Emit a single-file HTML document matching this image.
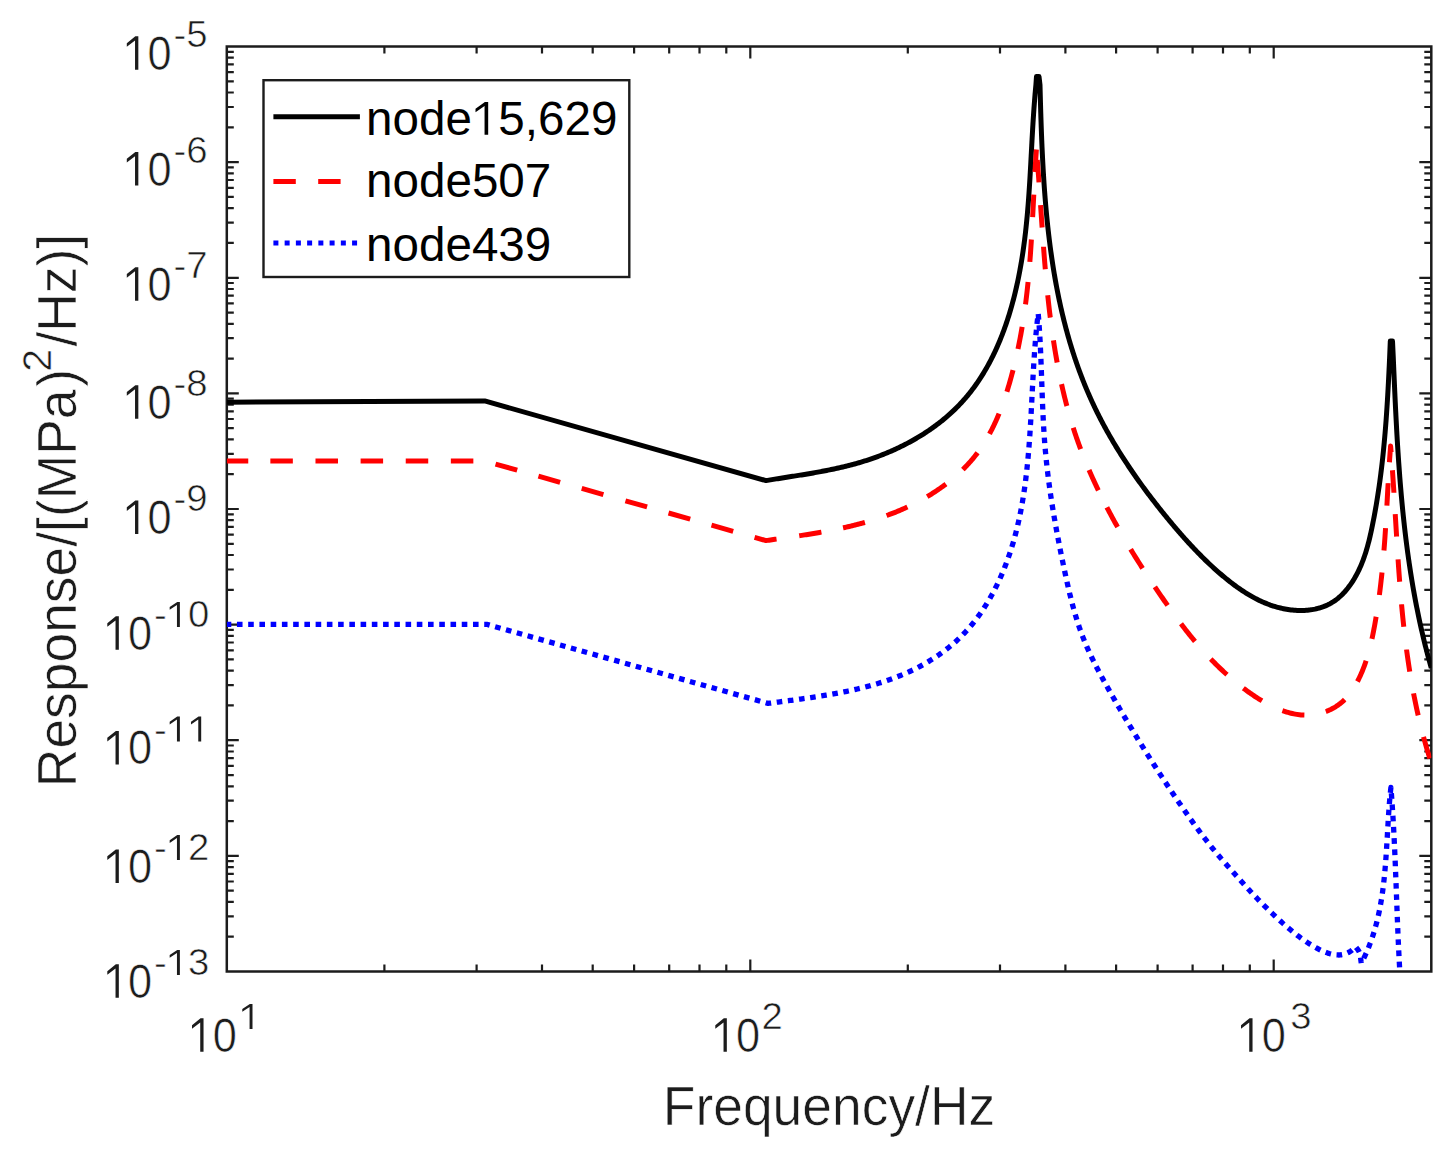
<!DOCTYPE html>
<html><head><meta charset="utf-8"><style>html,body{margin:0;padding:0;background:#fff;overflow:hidden;}svg{display:block;}.tx text{stroke:#fff;stroke-width:0.6;}</style></head>
<body><svg width="1455" height="1160" viewBox="0 0 1455 1160">
<rect width="1455" height="1160" fill="#fff"/>
<defs><clipPath id="c"><rect x="226.8" y="46.5" width="1204.5" height="925.0"/></clipPath></defs>
<rect x="226.8" y="46.5" width="1204.5" height="925.0" fill="none" stroke="#1c1c1c" stroke-width="2.5"/>
<path d="M384.4 971.5v-7.0M384.4 46.5v7.0M476.6 971.5v-7.0M476.6 46.5v7.0M542.0 971.5v-7.0M542.0 46.5v7.0M592.7 971.5v-7.0M592.7 46.5v7.0M634.1 971.5v-7.0M634.1 46.5v7.0M669.2 971.5v-7.0M669.2 46.5v7.0M699.5 971.5v-7.0M699.5 46.5v7.0M726.3 971.5v-7.0M726.3 46.5v7.0M750.3 971.5v-12.0M750.3 46.5v12.0M907.8 971.5v-7.0M907.8 46.5v7.0M1000.0 971.5v-7.0M1000.0 46.5v7.0M1065.4 971.5v-7.0M1065.4 46.5v7.0M1116.1 971.5v-7.0M1116.1 46.5v7.0M1157.6 971.5v-7.0M1157.6 46.5v7.0M1192.6 971.5v-7.0M1192.6 46.5v7.0M1223.0 971.5v-7.0M1223.0 46.5v7.0M1249.8 971.5v-7.0M1249.8 46.5v7.0M1273.7 971.5v-12.0M1273.7 46.5v12.0M226.8 936.7h7.0M1431.3 936.7h-7.0M226.8 916.3h7.0M1431.3 916.3h-7.0M226.8 901.9h7.0M1431.3 901.9h-7.0M226.8 890.7h7.0M1431.3 890.7h-7.0M226.8 881.5h7.0M1431.3 881.5h-7.0M226.8 873.8h7.0M1431.3 873.8h-7.0M226.8 867.1h7.0M1431.3 867.1h-7.0M226.8 861.2h7.0M1431.3 861.2h-7.0M226.8 855.9h12.0M1431.3 855.9h-12.0M226.8 821.1h7.0M1431.3 821.1h-7.0M226.8 800.7h7.0M1431.3 800.7h-7.0M226.8 786.3h7.0M1431.3 786.3h-7.0M226.8 775.1h7.0M1431.3 775.1h-7.0M226.8 765.9h7.0M1431.3 765.9h-7.0M226.8 758.2h7.0M1431.3 758.2h-7.0M226.8 751.5h7.0M1431.3 751.5h-7.0M226.8 745.5h7.0M1431.3 745.5h-7.0M226.8 740.2h12.0M1431.3 740.2h-12.0M226.8 705.4h7.0M1431.3 705.4h-7.0M226.8 685.1h7.0M1431.3 685.1h-7.0M226.8 670.6h7.0M1431.3 670.6h-7.0M226.8 659.4h7.0M1431.3 659.4h-7.0M226.8 650.3h7.0M1431.3 650.3h-7.0M226.8 642.5h7.0M1431.3 642.5h-7.0M226.8 635.8h7.0M1431.3 635.8h-7.0M226.8 629.9h7.0M1431.3 629.9h-7.0M226.8 624.6h12.0M1431.3 624.6h-12.0M226.8 589.8h7.0M1431.3 589.8h-7.0M226.8 569.5h7.0M1431.3 569.5h-7.0M226.8 555.0h7.0M1431.3 555.0h-7.0M226.8 543.8h7.0M1431.3 543.8h-7.0M226.8 534.7h7.0M1431.3 534.7h-7.0M226.8 526.9h7.0M1431.3 526.9h-7.0M226.8 520.2h7.0M1431.3 520.2h-7.0M226.8 514.3h7.0M1431.3 514.3h-7.0M226.8 509.0h12.0M1431.3 509.0h-12.0M226.8 474.2h7.0M1431.3 474.2h-7.0M226.8 453.8h7.0M1431.3 453.8h-7.0M226.8 439.4h7.0M1431.3 439.4h-7.0M226.8 428.2h7.0M1431.3 428.2h-7.0M226.8 419.0h7.0M1431.3 419.0h-7.0M226.8 411.3h7.0M1431.3 411.3h-7.0M226.8 404.6h7.0M1431.3 404.6h-7.0M226.8 398.7h7.0M1431.3 398.7h-7.0M226.8 393.4h12.0M1431.3 393.4h-12.0M226.8 358.6h7.0M1431.3 358.6h-7.0M226.8 338.2h7.0M1431.3 338.2h-7.0M226.8 323.8h7.0M1431.3 323.8h-7.0M226.8 312.6h7.0M1431.3 312.6h-7.0M226.8 303.4h7.0M1431.3 303.4h-7.0M226.8 295.7h7.0M1431.3 295.7h-7.0M226.8 289.0h7.0M1431.3 289.0h-7.0M226.8 283.0h7.0M1431.3 283.0h-7.0M226.8 277.8h12.0M1431.3 277.8h-12.0M226.8 242.9h7.0M1431.3 242.9h-7.0M226.8 222.6h7.0M1431.3 222.6h-7.0M226.8 208.1h7.0M1431.3 208.1h-7.0M226.8 196.9h7.0M1431.3 196.9h-7.0M226.8 187.8h7.0M1431.3 187.8h-7.0M226.8 180.0h7.0M1431.3 180.0h-7.0M226.8 173.3h7.0M1431.3 173.3h-7.0M226.8 167.4h7.0M1431.3 167.4h-7.0M226.8 162.1h12.0M1431.3 162.1h-12.0M226.8 127.3h7.0M1431.3 127.3h-7.0M226.8 107.0h7.0M1431.3 107.0h-7.0M226.8 92.5h7.0M1431.3 92.5h-7.0M226.8 81.3h7.0M1431.3 81.3h-7.0M226.8 72.2h7.0M1431.3 72.2h-7.0M226.8 64.4h7.0M1431.3 64.4h-7.0M226.8 57.7h7.0M1431.3 57.7h-7.0M226.8 51.8h7.0M1431.3 51.8h-7.0" stroke="#1c1c1c" stroke-width="2.2" fill="none"/>
<g clip-path="url(#c)" fill="none" stroke-linejoin="round">
<polyline points="226.80,402.20 484.70,400.90 766.00,480.60 767.47,480.35 768.94,480.11 770.41,479.86 771.88,479.62 773.36,479.38 774.83,479.14 776.31,478.90 777.78,478.67 779.26,478.43 780.74,478.20 782.22,477.96 783.70,477.73 785.17,477.50 786.66,477.26 788.14,477.03 789.62,476.80 791.10,476.57 792.58,476.33 794.06,476.10 795.55,475.86 797.03,475.63 798.51,475.39 800.00,475.15 801.48,474.91 802.96,474.67 804.45,474.43 805.93,474.18 807.41,473.93 808.90,473.68 810.38,473.43 811.86,473.18 813.35,472.92 814.83,472.66 816.31,472.40 817.79,472.13 819.27,471.86 820.76,471.59 822.24,471.31 823.72,471.03 825.20,470.75 826.67,470.46 828.15,470.17 829.63,469.87 831.11,469.57 832.58,469.26 834.06,468.95 835.53,468.63 837.00,468.31 838.48,467.98 839.95,467.65 841.42,467.31 842.89,466.97 844.35,466.62 845.82,466.26 847.29,465.90 848.75,465.53 850.21,465.15 851.67,464.77 853.13,464.38 854.59,463.98 856.05,463.57 857.50,463.16 858.96,462.74 860.41,462.31 861.86,461.88 863.31,461.43 864.75,460.98 866.20,460.52 867.64,460.05 869.08,459.58 870.52,459.09 871.96,458.60 873.39,458.10 874.82,457.59 876.25,457.07 877.67,456.55 879.10,456.01 880.52,455.47 881.93,454.92 883.35,454.36 884.76,453.80 886.16,453.22 887.57,452.64 888.97,452.05 890.36,451.45 891.75,450.84 893.14,450.22 894.53,449.60 895.91,448.97 897.28,448.33 898.66,447.68 900.02,447.02 901.39,446.35 902.74,445.68 904.10,445.00 905.45,444.31 906.79,443.61 908.13,442.90 909.46,442.19 910.79,441.46 912.12,440.73 913.43,439.99 914.75,439.24 916.05,438.49 917.35,437.72 918.65,436.95 919.94,436.17 921.22,435.38 922.50,434.58 923.77,433.77 925.03,432.96 926.29,432.14 927.54,431.30 928.79,430.46 930.03,429.62 931.26,428.76 932.48,427.90 933.70,427.02 934.91,426.14 936.11,425.25 937.31,424.35 938.50,423.45 939.68,422.53 940.85,421.61 942.02,420.68 943.17,419.73 944.32,418.79 945.46,417.83 946.60,416.86 947.72,415.89 948.84,414.91 949.95,413.92 951.05,412.92 952.14,411.91 953.22,410.90 954.29,409.87 955.35,408.84 956.41,407.80 957.46,406.75 958.49,405.69 959.52,404.62 960.54,403.55 961.54,402.46 962.54,401.37 963.53,400.27 964.51,399.16 965.48,398.05 966.44,396.92 967.39,395.79 968.33,394.65 969.26,393.50 970.18,392.34 971.09,391.18 971.99,390.00 972.88,388.82 973.77,387.64 974.64,386.44 975.51,385.24 976.36,384.03 977.21,382.81 978.05,381.59 978.87,380.36 979.69,379.12 980.50,377.88 981.31,376.63 982.10,375.37 982.88,374.10 983.66,372.83 984.43,371.56 985.18,370.27 985.93,368.99 986.68,367.69 987.41,366.39 988.13,365.08 988.85,363.77 989.56,362.45 990.26,361.13 990.95,359.80 991.63,358.46 992.30,357.12 992.97,355.78 993.63,354.43 994.28,353.07 994.92,351.71 995.56,350.35 996.19,348.98 996.81,347.61 997.42,346.23 998.02,344.84 998.62,343.46 999.21,342.06 999.79,340.67 1000.36,339.27 1000.93,337.86 1001.49,336.45 1002.04,335.04 1002.59,333.63 1003.12,332.21 1003.65,330.78 1004.18,329.36 1004.69,327.93 1005.20,326.49 1005.71,325.06 1006.20,323.62 1006.69,322.17 1007.17,320.73 1007.65,319.28 1008.11,317.83 1008.58,316.38 1009.03,314.92 1009.48,313.46 1009.92,312.00 1010.36,310.54 1010.79,309.07 1011.21,307.60 1011.63,306.13 1012.04,304.66 1012.44,303.19 1012.84,301.71 1013.23,300.24 1013.61,298.76 1013.99,297.28 1014.37,295.80 1014.74,294.32 1015.10,292.83 1015.45,291.35 1015.80,289.86 1016.15,288.38 1016.49,286.89 1016.82,285.40 1017.15,283.91 1017.47,282.42 1017.79,280.93 1018.10,279.44 1018.41,277.95 1018.71,276.46 1019.00,274.97 1019.29,273.48 1019.58,271.99 1019.86,270.50 1020.13,269.01 1020.40,267.52 1020.67,266.03 1020.93,264.54 1021.19,263.05 1021.44,261.56 1021.68,260.07 1021.92,258.58 1022.16,257.09 1022.39,255.60 1022.62,254.11 1022.85,252.62 1023.07,251.13 1023.28,249.64 1023.49,248.15 1023.70,246.66 1023.90,245.17 1024.10,243.68 1024.30,242.19 1024.49,240.70 1024.68,239.21 1024.86,237.72 1025.04,236.23 1025.22,234.74 1025.40,233.25 1025.57,231.76 1025.73,230.27 1025.90,228.78 1026.06,227.29 1026.21,225.80 1026.37,224.31 1026.52,222.82 1026.67,221.33 1026.81,219.84 1026.95,218.35 1027.09,216.86 1027.23,215.37 1027.36,213.87 1027.50,212.38 1027.62,210.89 1027.75,209.40 1027.87,207.91 1028.00,206.42 1028.12,204.93 1028.23,203.44 1028.35,201.95 1028.46,200.46 1028.57,198.96 1028.68,197.47 1028.79,195.98 1028.89,194.49 1029.00,193.00 1029.10,191.50 1029.20,190.01 1029.30,188.52 1029.39,187.03 1029.49,185.53 1029.58,184.04 1029.68,182.55 1029.77,181.06 1029.86,179.56 1029.95,178.07 1030.03,176.58 1030.12,175.08 1030.21,173.59 1030.29,172.09 1030.38,170.60 1030.46,169.10 1030.54,167.61 1030.63,166.12 1030.71,164.62 1030.79,163.12 1030.87,161.63 1030.95,160.13 1031.03,158.64 1031.11,157.14 1031.19,155.65 1031.27,154.15 1031.35,152.65 1031.43,151.15 1031.51,149.66 1031.59,148.16 1031.67,146.66 1031.75,145.16 1031.83,143.67 1031.91,142.17 1031.99,140.67 1032.07,139.17 1032.15,137.67 1032.24,136.17 1032.32,134.67 1032.41,133.17 1032.49,131.67 1032.58,130.17 1032.66,128.67 1032.75,127.17 1032.84,125.67 1032.93,124.16 1033.02,122.66 1033.12,121.16 1033.21,119.66 1033.31,118.15 1033.41,116.65 1033.50,115.15 1033.60,113.64 1033.71,112.14 1033.81,110.63 1033.92,109.13 1034.02,107.62 1034.13,106.12 1034.24,104.61 1034.36,103.11 1034.47,101.60 1034.59,100.09 1034.71,98.58 1034.83,97.08 1034.96,95.57 1035.08,94.06 1035.21,92.55 1035.35,91.04 1035.48,89.53 1035.62,88.02 1035.76,86.51 1035.90,85.00 1036.50,76.50 1039.00,76.50 1040.00,85.00 1040.04,86.48 1040.08,87.97 1040.11,89.45 1040.15,90.94 1040.19,92.43 1040.23,93.92 1040.27,95.41 1040.31,96.89 1040.35,98.38 1040.39,99.88 1040.43,101.37 1040.47,102.86 1040.51,104.35 1040.56,105.84 1040.60,107.34 1040.64,108.83 1040.69,110.33 1040.73,111.82 1040.78,113.32 1040.83,114.82 1040.87,116.31 1040.92,117.81 1040.97,119.31 1041.02,120.81 1041.07,122.31 1041.12,123.81 1041.17,125.31 1041.22,126.81 1041.28,128.31 1041.33,129.81 1041.39,131.32 1041.44,132.82 1041.50,134.32 1041.56,135.82 1041.62,137.33 1041.68,138.83 1041.74,140.34 1041.80,141.84 1041.86,143.35 1041.93,144.85 1041.99,146.36 1042.06,147.86 1042.13,149.37 1042.20,150.88 1042.27,152.38 1042.34,153.89 1042.42,155.40 1042.49,156.90 1042.57,158.41 1042.64,159.92 1042.72,161.43 1042.80,162.94 1042.88,164.44 1042.97,165.95 1043.05,167.46 1043.14,168.97 1043.22,170.48 1043.31,171.99 1043.40,173.50 1043.50,175.00 1043.59,176.51 1043.69,178.02 1043.78,179.53 1043.88,181.04 1043.98,182.55 1044.08,184.06 1044.19,185.57 1044.29,187.08 1044.40,188.58 1044.51,190.09 1044.62,191.60 1044.74,193.11 1044.85,194.62 1044.97,196.13 1045.09,197.63 1045.21,199.14 1045.33,200.65 1045.46,202.16 1045.59,203.66 1045.71,205.17 1045.85,206.68 1045.98,208.19 1046.11,209.69 1046.25,211.20 1046.39,212.70 1046.53,214.21 1046.68,215.72 1046.83,217.22 1046.97,218.72 1047.13,220.23 1047.28,221.73 1047.44,223.24 1047.59,224.74 1047.75,226.24 1047.92,227.75 1048.08,229.25 1048.25,230.75 1048.42,232.25 1048.59,233.75 1048.77,235.25 1048.95,236.75 1049.13,238.25 1049.31,239.75 1049.50,241.25 1049.69,242.75 1049.88,244.24 1050.07,245.74 1050.27,247.24 1050.47,248.73 1050.67,250.23 1050.87,251.72 1051.08,253.22 1051.29,254.71 1051.51,256.20 1051.72,257.70 1051.94,259.19 1052.16,260.68 1052.39,262.17 1052.62,263.66 1052.85,265.15 1053.08,266.63 1053.32,268.12 1053.56,269.61 1053.80,271.09 1054.05,272.58 1054.30,274.06 1054.55,275.54 1054.81,277.03 1055.07,278.51 1055.33,279.99 1055.60,281.47 1055.87,282.95 1056.14,284.43 1056.41,285.90 1056.69,287.38 1056.97,288.86 1057.26,290.33 1057.55,291.80 1057.84,293.28 1058.14,294.75 1058.44,296.22 1058.74,297.69 1059.05,299.16 1059.36,300.63 1059.67,302.09 1059.99,303.56 1060.31,305.02 1060.63,306.49 1060.96,307.95 1061.29,309.41 1061.63,310.87 1061.97,312.33 1062.31,313.79 1062.66,315.24 1063.01,316.70 1063.37,318.15 1063.72,319.61 1064.09,321.06 1064.45,322.51 1064.82,323.96 1065.20,325.41 1065.58,326.86 1065.96,328.30 1066.34,329.75 1066.74,331.19 1067.13,332.63 1067.53,334.07 1067.93,335.51 1068.34,336.95 1068.75,338.39 1069.16,339.82 1069.58,341.26 1070.01,342.69 1070.43,344.12 1070.87,345.55 1071.30,346.98 1071.74,348.41 1072.19,349.83 1072.64,351.26 1073.09,352.68 1073.55,354.10 1074.01,355.52 1074.48,356.94 1074.95,358.36 1075.43,359.77 1075.91,361.18 1076.40,362.60 1076.88,364.01 1077.38,365.42 1077.88,366.82 1078.38,368.23 1078.89,369.63 1079.40,371.03 1079.92,372.44 1080.45,373.83 1080.97,375.23 1081.50,376.63 1082.04,378.02 1082.58,379.41 1083.13,380.80 1083.68,382.19 1084.24,383.58 1084.80,384.97 1085.37,386.35 1085.94,387.73 1086.52,389.11 1087.10,390.49 1087.68,391.86 1088.28,393.24 1088.87,394.61 1089.47,395.98 1090.08,397.35 1090.69,398.72 1091.31,400.08 1091.93,401.45 1092.56,402.81 1093.19,404.17 1093.83,405.52 1094.48,406.88 1095.12,408.23 1095.78,409.58 1096.44,410.93 1097.10,412.28 1097.77,413.63 1098.45,414.97 1099.13,416.31 1099.81,417.65 1100.50,418.99 1101.19,420.32 1101.89,421.66 1102.59,422.99 1103.30,424.32 1104.02,425.64 1104.73,426.97 1105.46,428.29 1106.18,429.61 1106.91,430.93 1107.65,432.25 1108.39,433.56 1109.14,434.88 1109.88,436.19 1110.64,437.50 1111.40,438.80 1112.16,440.11 1112.92,441.41 1113.70,442.71 1114.47,444.01 1115.25,445.30 1116.03,446.60 1116.82,447.89 1117.61,449.18 1118.40,450.47 1119.20,451.75 1120.01,453.04 1120.81,454.32 1121.62,455.60 1122.44,456.87 1123.25,458.15 1124.08,459.42 1124.90,460.69 1125.73,461.96 1126.56,463.22 1127.40,464.49 1128.24,465.75 1129.08,467.01 1129.93,468.26 1130.78,469.52 1131.63,470.77 1132.48,472.02 1133.34,473.27 1134.21,474.52 1135.07,475.76 1135.94,477.00 1136.81,478.24 1137.69,479.48 1138.57,480.71 1139.45,481.94 1140.33,483.17 1141.22,484.40 1142.11,485.63 1143.00,486.85 1143.90,488.07 1144.79,489.29 1145.70,490.50 1146.60,491.72 1147.51,492.93 1148.41,494.14 1149.33,495.35 1150.24,496.55 1151.16,497.75 1152.07,498.95 1153.00,500.15 1153.92,501.34 1154.84,502.54 1155.77,503.73 1156.70,504.91 1157.64,506.10 1158.57,507.28 1159.51,508.46 1160.45,509.64 1161.39,510.82 1162.33,511.99 1163.27,513.16 1164.22,514.33 1165.17,515.50 1166.12,516.66 1167.07,517.82 1168.03,518.98 1168.98,520.14 1169.94,521.29 1170.90,522.44 1171.86,523.59 1172.82,524.74 1173.79,525.88 1174.75,527.02 1175.72,528.16 1176.69,529.30 1177.66,530.43 1178.64,531.56 1179.61,532.69 1180.59,533.82 1181.58,534.94 1182.56,536.06 1183.55,537.17 1184.54,538.29 1185.53,539.40 1186.53,540.50 1187.53,541.61 1188.53,542.71 1189.54,543.80 1190.55,544.90 1191.56,545.99 1192.58,547.07 1193.60,548.16 1194.62,549.24 1195.65,550.32 1196.68,551.39 1197.72,552.46 1198.76,553.52 1199.80,554.59 1200.85,555.64 1201.90,556.70 1202.96,557.75 1204.02,558.80 1205.09,559.84 1206.16,560.88 1207.24,561.91 1208.32,562.95 1209.41,563.97 1210.50,565.00 1211.60,566.01 1212.70,567.03 1213.81,568.04 1214.92,569.05 1216.04,570.05 1217.17,571.04 1218.30,572.04 1219.43,573.03 1220.58,574.01 1221.72,574.99 1222.88,575.96 1224.04,576.93 1225.21,577.90 1226.38,578.86 1227.56,579.81 1228.75,580.76 1229.94,581.69 1231.14,582.63 1232.35,583.55 1233.56,584.47 1234.78,585.37 1236.01,586.27 1237.24,587.16 1238.48,588.04 1239.73,588.90 1240.98,589.76 1242.24,590.61 1243.51,591.44 1244.78,592.26 1246.06,593.07 1247.35,593.87 1248.65,594.65 1249.95,595.42 1251.26,596.18 1252.58,596.92 1253.90,597.65 1255.24,598.36 1256.58,599.05 1257.92,599.73 1259.28,600.40 1260.64,601.04 1262.01,601.67 1263.39,602.28 1264.77,602.87 1266.17,603.44 1267.57,604.00 1268.98,604.53 1270.39,605.05 1271.82,605.54 1273.25,606.01 1274.69,606.46 1276.14,606.90 1277.60,607.30 1279.06,607.69 1280.53,608.05 1282.02,608.39 1283.50,608.71 1285.00,609.00 1286.50,609.27 1288.01,609.51 1289.51,609.72 1291.03,609.91 1292.54,610.08 1294.06,610.22 1295.58,610.33 1297.09,610.41 1298.61,610.46 1300.12,610.49 1301.64,610.49 1303.14,610.45 1304.65,610.39 1306.15,610.30 1307.64,610.18 1309.13,610.02 1310.60,609.84 1312.07,609.62 1313.53,609.37 1314.98,609.09 1316.42,608.77 1317.85,608.42 1319.27,608.04 1320.67,607.62 1322.06,607.17 1323.43,606.68 1324.78,606.15 1326.12,605.59 1327.45,605.00 1328.75,604.36 1330.03,603.69 1331.30,602.98 1332.54,602.23 1333.76,601.44 1334.96,600.62 1336.14,599.76 1337.30,598.87 1338.44,597.94 1339.55,596.98 1340.65,595.99 1341.72,594.97 1342.77,593.92 1343.81,592.84 1344.82,591.74 1345.81,590.61 1346.78,589.46 1347.73,588.28 1348.65,587.08 1349.56,585.87 1350.45,584.63 1351.32,583.37 1352.16,582.10 1352.99,580.81 1353.79,579.51 1354.58,578.19 1355.35,576.86 1356.09,575.52 1356.82,574.17 1357.52,572.81 1358.21,571.45 1358.87,570.07 1359.52,568.69 1360.15,567.31 1360.75,565.92 1361.35,564.52 1361.92,563.11 1362.48,561.70 1363.02,560.29 1363.54,558.87 1364.05,557.45 1364.55,556.02 1365.03,554.58 1365.49,553.15 1365.95,551.71 1366.39,550.26 1366.82,548.81 1367.23,547.36 1367.64,545.90 1368.03,544.45 1368.42,542.98 1368.80,541.52 1369.16,540.05 1369.52,538.59 1369.87,537.12 1370.21,535.64 1370.54,534.17 1370.87,532.69 1371.19,531.22 1371.51,529.74 1371.82,528.26 1372.13,526.78 1372.43,525.31 1372.73,523.83 1373.02,522.35 1373.31,520.87 1373.60,519.39 1373.89,517.91 1374.17,516.43 1374.44,514.94 1374.72,513.46 1374.99,511.98 1375.25,510.50 1375.52,509.02 1375.78,507.54 1376.03,506.06 1376.29,504.57 1376.53,503.09 1376.78,501.61 1377.02,500.12 1377.26,498.64 1377.50,497.16 1377.73,495.67 1377.96,494.19 1378.19,492.70 1378.42,491.22 1378.64,489.73 1378.85,488.25 1379.07,486.76 1379.28,485.28 1379.49,483.79 1379.70,482.31 1379.90,480.82 1380.10,479.33 1380.30,477.84 1380.49,476.36 1380.69,474.87 1380.88,473.38 1381.06,471.89 1381.25,470.41 1381.43,468.92 1381.61,467.43 1381.78,465.94 1381.96,464.45 1382.13,462.96 1382.30,461.47 1382.46,459.98 1382.63,458.49 1382.79,457.00 1382.95,455.51 1383.10,454.02 1383.26,452.53 1383.41,451.03 1383.56,449.54 1383.71,448.05 1383.85,446.56 1384.00,445.06 1384.14,443.57 1384.28,442.08 1384.41,440.58 1384.55,439.09 1384.68,437.60 1384.81,436.10 1384.94,434.61 1385.07,433.11 1385.19,431.62 1385.31,430.12 1385.44,428.62 1385.56,427.13 1385.67,425.63 1385.79,424.14 1385.90,422.64 1386.02,421.14 1386.13,419.64 1386.24,418.15 1386.34,416.65 1386.45,415.15 1386.55,413.65 1386.66,412.15 1386.76,410.65 1386.86,409.15 1386.96,407.65 1387.05,406.15 1387.15,404.65 1387.24,403.15 1387.34,401.65 1387.43,400.15 1387.52,398.65 1387.61,397.15 1387.70,395.65 1387.78,394.14 1387.87,392.64 1387.96,391.14 1388.04,389.63 1388.12,388.13 1388.20,386.63 1388.28,385.12 1388.36,383.62 1388.44,382.11 1388.52,380.61 1388.60,379.10 1388.67,377.60 1388.75,376.09 1388.82,374.59 1388.90,373.08 1388.97,371.57 1389.04,370.07 1389.11,368.56 1389.19,367.05 1389.26,365.54 1389.33,364.04 1389.40,362.53 1389.46,361.02 1389.53,359.51 1389.60,358.00 1390.30,341.00 1392.50,341.00 1393.30,358.00 1393.36,359.51 1393.43,361.02 1393.49,362.53 1393.56,364.04 1393.62,365.54 1393.68,367.05 1393.75,368.56 1393.81,370.07 1393.88,371.58 1393.94,373.09 1394.01,374.60 1394.07,376.11 1394.14,377.62 1394.20,379.13 1394.27,380.64 1394.34,382.15 1394.40,383.66 1394.47,385.17 1394.54,386.68 1394.60,388.19 1394.67,389.71 1394.74,391.22 1394.81,392.73 1394.88,394.24 1394.95,395.75 1395.02,397.26 1395.09,398.77 1395.16,400.28 1395.23,401.79 1395.31,403.30 1395.38,404.82 1395.45,406.33 1395.52,407.84 1395.60,409.35 1395.67,410.86 1395.75,412.37 1395.83,413.88 1395.90,415.40 1395.98,416.91 1396.06,418.42 1396.14,419.93 1396.22,421.44 1396.30,422.95 1396.38,424.46 1396.46,425.98 1396.54,427.49 1396.63,429.00 1396.71,430.51 1396.80,432.02 1396.88,433.53 1396.97,435.04 1397.06,436.55 1397.14,438.07 1397.23,439.58 1397.32,441.09 1397.42,442.60 1397.51,444.11 1397.60,445.62 1397.70,447.13 1397.79,448.64 1397.89,450.15 1397.98,451.66 1398.08,453.17 1398.18,454.68 1398.28,456.19 1398.38,457.70 1398.49,459.21 1398.59,460.72 1398.69,462.23 1398.80,463.74 1398.91,465.25 1399.02,466.76 1399.13,468.27 1399.24,469.78 1399.35,471.29 1399.46,472.80 1399.58,474.31 1399.69,475.82 1399.81,477.33 1399.93,478.84 1400.05,480.34 1400.17,481.85 1400.29,483.36 1400.42,484.87 1400.54,486.38 1400.67,487.88 1400.80,489.39 1400.93,490.90 1401.06,492.41 1401.19,493.91 1401.32,495.42 1401.46,496.93 1401.60,498.43 1401.74,499.94 1401.88,501.44 1402.02,502.95 1402.16,504.46 1402.31,505.96 1402.45,507.47 1402.60,508.97 1402.75,510.48 1402.90,511.98 1403.06,513.48 1403.21,514.99 1403.37,516.49 1403.53,518.00 1403.69,519.50 1403.85,521.00 1404.01,522.50 1404.18,524.01 1404.34,525.51 1404.51,527.01 1404.68,528.51 1404.86,530.02 1405.03,531.52 1405.21,533.02 1405.39,534.52 1405.57,536.02 1405.75,537.52 1405.93,539.02 1406.12,540.52 1406.31,542.02 1406.50,543.52 1406.69,545.02 1406.89,546.51 1407.08,548.01 1407.28,549.51 1407.48,551.01 1407.68,552.50 1407.89,554.00 1408.10,555.50 1408.31,556.99 1408.52,558.49 1408.73,559.99 1408.95,561.48 1409.16,562.98 1409.38,564.47 1409.61,565.96 1409.83,567.46 1410.06,568.95 1410.29,570.44 1410.52,571.94 1410.75,573.43 1410.99,574.92 1411.23,576.41 1411.47,577.90 1411.71,579.39 1411.96,580.88 1412.21,582.37 1412.46,583.86 1412.71,585.35 1412.97,586.84 1413.22,588.33 1413.48,589.82 1413.75,591.31 1414.01,592.79 1414.28,594.28 1414.55,595.77 1414.83,597.25 1415.10,598.74 1415.38,600.22 1415.66,601.71 1415.95,603.19 1416.23,604.68 1416.52,606.16 1416.81,607.64 1417.11,609.12 1417.41,610.61 1417.71,612.09 1418.01,613.57 1418.31,615.05 1418.62,616.53 1418.93,618.01 1419.25,619.49 1419.56,620.97 1419.88,622.44 1420.21,623.92 1420.53,625.40 1420.86,626.87 1421.19,628.35 1421.53,629.83 1421.86,631.30 1422.20,632.78 1422.55,634.25 1422.89,635.72 1423.24,637.20 1423.59,638.67 1423.95,640.14 1424.31,641.61 1424.67,643.08 1425.03,644.55 1425.40,646.02 1425.77,647.49 1426.15,648.96 1426.52,650.43 1426.90,651.90 1427.29,653.36 1427.67,654.83 1428.06,656.29 1428.46,657.76 1428.85,659.22 1429.25,660.69 1429.66,662.15 1430.06,663.62 1430.47,665.08 1430.88,666.54 1431.30,668.00" stroke="#000" stroke-width="5.0"/>
<polyline points="226.80,461.00 248.25,461.00" stroke="#ff0000" stroke-width="5"/>
<polyline points="270.35,461.00 292.85,461.00" stroke="#ff0000" stroke-width="5"/>
<polyline points="315.48,461.00 337.98,461.00" stroke="#ff0000" stroke-width="5"/>
<polyline points="360.60,461.00 383.10,461.00" stroke="#ff0000" stroke-width="5"/>
<polyline points="405.73,461.00 428.23,461.00" stroke="#ff0000" stroke-width="5"/>
<polyline points="450.85,461.00 473.35,461.00" stroke="#ff0000" stroke-width="5"/>
<polyline points="495.55,464.07 517.20,470.20" stroke="#ff0000" stroke-width="5"/>
<polyline points="538.44,476.21 560.09,482.33" stroke="#ff0000" stroke-width="5"/>
<polyline points="581.73,488.46 603.38,494.58" stroke="#ff0000" stroke-width="5"/>
<polyline points="625.44,500.82 647.09,506.95" stroke="#ff0000" stroke-width="5"/>
<polyline points="668.54,513.02 690.19,519.15" stroke="#ff0000" stroke-width="5"/>
<polyline points="711.52,525.18 733.17,531.31" stroke="#ff0000" stroke-width="5"/>
<polyline points="754.59,537.37 766.00,540.60 767.48,540.39 768.96,540.17 770.45,539.96 771.93,539.75 773.41,539.53 774.90,539.32 776.39,539.11 776.54,539.09" stroke="#ff0000" stroke-width="5"/>
<polyline points="799.21,535.76 800.24,535.60 801.73,535.37 803.23,535.14 804.72,534.90 806.21,534.67 807.71,534.43 809.20,534.19 810.69,533.94 812.18,533.70 813.67,533.45 815.17,533.20 816.66,532.94 818.15,532.69 819.64,532.43 821.13,532.16 821.41,532.11" stroke="#ff0000" stroke-width="5"/>
<polyline points="843.07,527.84 843.36,527.78 844.83,527.45 846.30,527.12 847.77,526.78 849.24,526.44 850.71,526.10 852.17,525.75 853.64,525.39 855.10,525.03 856.56,524.66 858.02,524.29 859.47,523.91 860.93,523.53 862.38,523.14 863.83,522.74 864.91,522.44" stroke="#ff0000" stroke-width="5"/>
<polyline points="886.61,515.56 886.74,515.51 888.15,514.99 889.56,514.47 890.97,513.94 892.37,513.41 893.77,512.86 895.16,512.31 896.56,511.75 897.94,511.18 899.33,510.60 900.71,510.01 902.09,509.42 903.47,508.81 904.84,508.20 906.21,507.58 907.42,507.02" stroke="#ff0000" stroke-width="5"/>
<polyline points="927.20,496.61 927.58,496.39 928.88,495.61 930.17,494.82 931.45,494.02 932.73,493.22 934.00,492.40 935.27,491.58 936.53,490.74 937.78,489.90 939.03,489.05 940.27,488.19 941.51,487.32 942.73,486.44 943.95,485.55 945.17,484.65 945.89,484.11" stroke="#ff0000" stroke-width="5"/>
<polyline points="962.80,469.60 963.45,468.95 964.51,467.89 965.56,466.81 966.60,465.73 967.62,464.64 968.64,463.53 969.64,462.42 970.63,461.30 971.60,460.16 972.57,459.02 973.52,457.87 974.46,456.71 975.39,455.54 976.31,454.36 977.21,453.17 977.59,452.67" stroke="#ff0000" stroke-width="5"/>
<polyline points="989.49,433.92 989.97,433.04 990.67,431.71 991.37,430.39 992.05,429.05 992.72,427.71 993.38,426.37 994.03,425.01 994.67,423.66 995.30,422.29 995.92,420.92 996.53,419.55 997.13,418.17 997.73,416.78 998.31,415.40 998.89,414.00 999.06,413.57" stroke="#ff0000" stroke-width="5"/>
<polyline points="1006.88,391.72 1007.05,391.19 1007.50,389.75 1007.94,388.29 1008.38,386.84 1008.81,385.39 1009.24,383.93 1009.66,382.47 1010.08,381.01 1010.49,379.55 1010.89,378.09 1011.30,376.63 1011.69,375.17 1012.08,373.71 1012.47,372.24 1012.85,370.78 1013.03,370.08" stroke="#ff0000" stroke-width="5"/>
<polyline points="1017.95,349.02 1018.01,348.73 1018.32,347.25 1018.63,345.78 1018.93,344.30 1019.22,342.82 1019.51,341.34 1019.80,339.86 1020.08,338.39 1020.36,336.91 1020.64,335.42 1020.91,333.94 1021.17,332.46 1021.44,330.98 1021.70,329.50 1021.95,328.01 1022.13,326.92" stroke="#ff0000" stroke-width="5"/>
<polyline points="1025.50,304.36 1025.52,304.21 1025.72,302.72 1025.91,301.22 1026.09,299.73 1026.28,298.24 1026.46,296.75 1026.63,295.25 1026.81,293.76 1026.98,292.26 1027.15,290.77 1027.31,289.27 1027.47,287.78 1027.63,286.28 1027.79,284.79 1027.94,283.29 1028.07,282.01" stroke="#ff0000" stroke-width="5"/>
<polyline points="1029.84,261.90 1029.93,260.80 1030.04,259.30 1030.16,257.80 1030.27,256.30 1030.38,254.79 1030.48,253.29 1030.59,251.79 1030.69,250.29 1030.79,248.78 1030.89,247.28 1030.99,245.78 1031.09,244.28 1031.19,242.77 1031.28,241.27 1031.37,239.76 1031.39,239.46" stroke="#ff0000" stroke-width="5"/>
<polyline points="1032.64,217.14 1032.72,215.69 1032.80,214.18 1032.87,212.68 1032.95,211.17 1033.03,209.67 1033.10,208.16 1033.18,206.66 1033.26,205.15 1033.33,203.64 1033.41,202.14 1033.48,200.63 1033.56,199.13 1033.63,197.62 1033.71,196.12 1033.79,194.67" stroke="#ff0000" stroke-width="5"/>
<polyline points="1034.98,171.99 1035.07,170.54 1035.15,169.03 1035.24,167.53 1035.33,166.02 1035.42,164.52 1035.51,163.02 1035.61,161.52 1035.70,160.01 1035.79,158.51 1035.89,157.01 1035.99,155.51 1036.09,154.00 1036.19,152.50 1036.29,151.00 1036.40,149.53" stroke="#ff0000" stroke-width="5"/>
<polyline points="1037.28,159.99 1037.39,161.38 1037.51,162.87 1037.63,164.36 1037.75,165.85 1037.87,167.34 1037.98,168.83 1038.10,170.32 1038.21,171.81 1038.32,173.30 1038.43,174.79 1038.54,176.29 1038.66,177.78 1038.77,179.27 1038.87,180.77 1038.98,182.26 1038.99,182.42" stroke="#ff0000" stroke-width="5"/>
<polyline points="1040.58,205.09 1040.66,206.24 1040.76,207.74 1040.87,209.24 1040.97,210.75 1041.07,212.25 1041.18,213.75 1041.28,215.25 1041.38,216.76 1041.48,218.26 1041.59,219.76 1041.69,221.27 1041.80,222.77 1041.90,224.27 1042.00,225.78 1042.11,227.28 1042.13,227.53" stroke="#ff0000" stroke-width="5"/>
<polyline points="1043.52,246.78 1043.52,246.85 1043.63,248.35 1043.75,249.86 1043.86,251.36 1043.98,252.87 1044.09,254.37 1044.21,255.88 1044.33,257.38 1044.45,258.89 1044.57,260.39 1044.69,261.90 1044.81,263.40 1044.94,264.91 1045.06,266.41 1045.19,267.92 1045.30,269.21" stroke="#ff0000" stroke-width="5"/>
<polyline points="1047.75,295.33 1047.87,296.46 1048.03,297.96 1048.19,299.45 1048.35,300.95 1048.51,302.45 1048.68,303.95 1048.85,305.45 1049.02,306.94 1049.19,308.44 1049.36,309.94 1049.54,311.43 1049.72,312.93 1049.90,314.42 1050.08,315.91 1050.26,317.41 1050.30,317.69" stroke="#ff0000" stroke-width="5"/>
<polyline points="1053.43,340.36 1053.56,341.23 1053.79,342.71 1054.03,344.20 1054.26,345.68 1054.50,347.16 1054.74,348.64 1054.98,350.12 1055.23,351.60 1055.48,353.08 1055.73,354.56 1055.99,356.03 1056.25,357.51 1056.51,358.99 1056.78,360.46 1057.05,361.93 1057.16,362.54" stroke="#ff0000" stroke-width="5"/>
<polyline points="1061.54,384.10 1061.82,385.40 1062.15,386.85 1062.49,388.31 1062.82,389.77 1063.16,391.22 1063.51,392.68 1063.86,394.13 1064.21,395.58 1064.57,397.03 1064.93,398.48 1065.30,399.93 1065.67,401.38 1066.04,402.83 1066.42,404.27 1066.80,405.71 1066.87,405.96" stroke="#ff0000" stroke-width="5"/>
<polyline points="1073.27,427.85 1073.52,428.66 1073.98,430.08 1074.44,431.50 1074.91,432.92 1075.39,434.34 1075.87,435.76 1076.35,437.18 1076.84,438.59 1077.33,440.01 1077.83,441.42 1078.33,442.83 1078.84,444.24 1079.36,445.65 1079.87,447.05 1080.40,448.46 1080.64,449.10" stroke="#ff0000" stroke-width="5"/>
<polyline points="1089.02,469.89 1089.39,470.75 1089.99,472.13 1090.60,473.51 1091.21,474.89 1091.82,476.26 1092.43,477.64 1093.05,479.01 1093.68,480.38 1094.31,481.75 1094.94,483.12 1095.58,484.49 1096.22,485.86 1096.86,487.22 1097.51,488.58 1098.16,489.95 1098.36,490.36" stroke="#ff0000" stroke-width="5"/>
<polyline points="1106.86,507.32 1106.96,507.51 1107.66,508.85 1108.37,510.19 1109.07,511.53 1109.79,512.86 1110.50,514.20 1111.22,515.53 1111.94,516.86 1112.66,518.19 1113.39,519.52 1114.12,520.85 1114.85,522.17 1115.58,523.50 1116.32,524.82 1117.06,526.14 1117.60,527.09" stroke="#ff0000" stroke-width="5"/>
<polyline points="1130.63,549.27 1130.86,549.64 1131.65,550.93 1132.44,552.22 1133.23,553.51 1134.03,554.79 1134.83,556.08 1135.63,557.36 1136.43,558.64 1137.24,559.92 1138.04,561.20 1138.85,562.47 1139.66,563.75 1140.47,565.02 1141.29,566.29 1142.10,567.56 1142.59,568.32" stroke="#ff0000" stroke-width="5"/>
<polyline points="1154.86,586.90 1155.37,587.65 1156.21,588.89 1157.05,590.13 1157.89,591.37 1158.74,592.60 1159.58,593.84 1160.43,595.07 1161.28,596.30 1162.12,597.53 1162.97,598.76 1163.82,599.99 1164.68,601.21 1165.53,602.43 1166.38,603.65 1167.24,604.87 1167.63,605.42" stroke="#ff0000" stroke-width="5"/>
<polyline points="1181.00,623.78 1181.22,624.07 1182.12,625.24 1183.02,626.42 1183.92,627.59 1184.82,628.76 1185.73,629.93 1186.65,631.09 1187.56,632.26 1188.48,633.41 1189.41,634.57 1190.33,635.72 1191.26,636.87 1192.20,638.02 1193.14,639.16 1194.08,640.30 1194.99,641.39" stroke="#ff0000" stroke-width="5"/>
<polyline points="1210.82,659.07 1210.87,659.12 1211.90,660.20 1212.95,661.27 1213.99,662.33 1215.05,663.39 1216.11,664.45 1217.17,665.50 1218.25,666.55 1219.33,667.59 1220.41,668.63 1221.50,669.66 1222.60,670.69 1223.71,671.72 1224.82,672.74 1225.94,673.75 1227.00,674.69" stroke="#ff0000" stroke-width="5"/>
<polyline points="1243.34,688.16 1243.66,688.40 1244.90,689.34 1246.16,690.27 1247.42,691.19 1248.69,692.11 1249.97,693.01 1251.25,693.91 1252.55,694.80 1253.85,695.68 1255.15,696.55 1256.47,697.41 1257.79,698.25 1259.11,699.09 1260.45,699.91 1261.79,700.71 1261.94,700.80" stroke="#ff0000" stroke-width="5"/>
<polyline points="1282.42,710.64 1282.48,710.66 1283.89,711.16 1285.31,711.62 1286.72,712.06 1288.14,712.47 1289.56,712.86 1290.99,713.22 1292.41,713.55 1293.84,713.85 1295.27,714.12 1296.70,714.36 1298.14,714.57 1299.57,714.74 1301.00,714.89 1302.44,715.00 1303.87,715.08 1304.38,715.09" stroke="#ff0000" stroke-width="5"/>
<polyline points="1325.80,711.56 1326.65,711.24 1328.02,710.68 1329.37,710.08 1330.72,709.44 1332.04,708.76 1333.35,708.05 1334.65,707.30 1335.92,706.52 1337.17,705.70 1338.39,704.85 1339.60,703.96 1340.78,703.03 1341.93,702.07 1343.05,701.08 1344.15,700.06 1344.64,699.57" stroke="#ff0000" stroke-width="5"/>
<polyline points="1357.43,681.52 1358.10,680.23 1358.78,678.87 1359.45,677.49 1360.09,676.12 1360.73,674.73 1361.34,673.34 1361.94,671.94 1362.52,670.54 1363.08,669.14 1363.63,667.72 1364.17,666.31 1364.69,664.88 1365.19,663.46 1365.68,662.03 1366.10,660.78" stroke="#ff0000" stroke-width="5"/>
<polyline points="1371.95,638.89 1372.00,638.68 1372.31,637.21 1372.62,635.73 1372.93,634.25 1373.22,632.77 1373.52,631.28 1373.80,629.80 1374.08,628.32 1374.36,626.84 1374.64,625.36 1374.91,623.87 1375.17,622.39 1375.43,620.91 1375.69,619.43 1375.94,617.94 1376.14,616.78" stroke="#ff0000" stroke-width="5"/>
<polyline points="1379.38,594.97 1379.48,594.21 1379.67,592.73 1379.86,591.24 1380.05,589.76 1380.23,588.27 1380.41,586.79 1380.59,585.30 1380.76,583.81 1380.93,582.33 1381.10,580.84 1381.26,579.35 1381.43,577.87 1381.59,576.38 1381.74,574.89 1381.90,573.40 1381.98,572.62" stroke="#ff0000" stroke-width="5"/>
<polyline points="1383.97,550.52 1384.04,549.54 1384.16,548.05 1384.27,546.55 1384.39,545.06 1384.50,543.56 1384.61,542.06 1384.72,540.57 1384.82,539.07 1384.93,537.57 1385.03,536.07 1385.13,534.57 1385.23,533.07 1385.33,531.57 1385.43,530.07 1385.52,528.57 1385.55,528.08" stroke="#ff0000" stroke-width="5"/>
<polyline points="1386.89,505.65 1386.95,504.52 1387.04,503.01 1387.12,501.51 1387.20,500.00 1387.29,498.50 1387.37,496.99 1387.46,495.49 1387.54,493.98 1387.63,492.48 1387.71,490.97 1387.79,489.47 1387.88,487.97 1387.96,486.46 1388.05,484.96 1388.14,483.46 1388.15,483.19" stroke="#ff0000" stroke-width="5"/>
<polyline points="1389.43,462.22 1389.52,460.94 1389.62,459.45 1389.72,457.95 1389.83,456.45 1389.93,454.96 1390.04,453.46 1390.15,451.97 1390.26,450.48 1390.37,448.98 1390.48,447.49 1390.60,446.00 1390.72,447.50 1390.85,449.00 1390.97,450.50 1391.08,452.00 1391.10,452.21" stroke="#ff0000" stroke-width="5"/>
<polyline points="1392.44,470.22 1392.53,471.56 1392.64,473.06 1392.74,474.57 1392.84,476.07 1392.94,477.58 1393.04,479.09 1393.14,480.60 1393.24,482.10 1393.34,483.61 1393.44,485.12 1393.54,486.63 1393.64,488.14 1393.73,489.64 1393.83,491.15 1393.92,492.66 1393.92,492.67" stroke="#ff0000" stroke-width="5"/>
<polyline points="1395.24,514.07 1395.31,515.31 1395.40,516.82 1395.49,518.34 1395.59,519.85 1395.68,521.36 1395.77,522.87 1395.86,524.38 1395.95,525.89 1396.04,527.40 1396.13,528.92 1396.23,530.43 1396.32,531.94 1396.41,533.45 1396.50,534.96 1396.60,536.48 1396.60,536.53" stroke="#ff0000" stroke-width="5"/>
<polyline points="1398.06,559.29 1398.15,560.66 1398.25,562.17 1398.35,563.69 1398.46,565.20 1398.56,566.71 1398.67,568.22 1398.78,569.73 1398.88,571.24 1398.99,572.75 1399.10,574.26 1399.21,575.77 1399.33,577.28 1399.44,578.79 1399.55,580.30 1399.66,581.73" stroke="#ff0000" stroke-width="5"/>
<polyline points="1401.55,604.28 1401.56,604.43 1401.70,605.94 1401.84,607.45 1401.98,608.95 1402.12,610.46 1402.27,611.96 1402.41,613.47 1402.56,614.97 1402.71,616.48 1402.86,617.98 1403.02,619.49 1403.17,620.99 1403.33,622.49 1403.49,624.00 1403.65,625.50 1403.77,626.67" stroke="#ff0000" stroke-width="5"/>
<polyline points="1406.52,649.39 1406.53,649.49 1406.73,650.99 1406.93,652.48 1407.14,653.98 1407.34,655.47 1407.55,656.97 1407.77,658.46 1407.98,659.96 1408.20,661.45 1408.42,662.94 1408.64,664.43 1408.87,665.92 1409.10,667.42 1409.33,668.91 1409.56,670.40 1409.76,671.66" stroke="#ff0000" stroke-width="5"/>
<polyline points="1413.57,693.37 1413.72,694.16 1414.01,695.64 1414.30,697.12 1414.60,698.60 1414.89,700.08 1415.19,701.56 1415.50,703.04 1415.81,704.52 1416.12,705.99 1416.43,707.47 1416.75,708.94 1417.07,710.42 1417.40,711.89 1417.73,713.36 1418.06,714.84 1418.19,715.39" stroke="#ff0000" stroke-width="5"/>
<polyline points="1423.54,736.93 1423.91,738.29 1424.31,739.75 1424.71,741.21 1425.12,742.67 1425.53,744.13 1425.95,745.59 1426.37,747.04 1426.80,748.50 1427.23,749.95 1427.66,751.40 1428.10,752.86 1428.54,754.31 1428.99,755.76 1429.44,757.21 1429.86,758.52" stroke="#ff0000" stroke-width="5"/>
<polyline points="226.80,624.30 486.60,624.30 768.10,703.40 769.55,703.20 771.00,703.01 772.45,702.81 773.90,702.62 775.36,702.42 776.82,702.23 778.28,702.03 779.75,701.84 781.21,701.64 782.68,701.45 784.15,701.25 785.63,701.06 787.10,700.86 788.58,700.66 790.06,700.46 791.54,700.27 793.02,700.07 794.51,699.86 795.99,699.66 797.48,699.46 798.97,699.25 800.46,699.05 801.95,698.84 803.44,698.63 804.94,698.42 806.43,698.21 807.93,697.99 809.42,697.77 810.92,697.55 812.42,697.33 813.92,697.10 815.42,696.88 816.92,696.65 818.41,696.41 819.91,696.18 821.42,695.94 822.92,695.69 824.42,695.45 825.92,695.20 827.42,694.95 828.92,694.69 830.42,694.43 831.92,694.17 833.41,693.90 834.91,693.63 836.41,693.35 837.91,693.07 839.40,692.79 840.90,692.50 842.40,692.21 843.89,691.91 845.38,691.61 846.87,691.30 848.36,690.99 849.85,690.67 851.34,690.34 852.83,690.02 854.31,689.68 855.80,689.34 857.28,689.00 858.76,688.65 860.24,688.29 861.71,687.93 863.19,687.56 864.66,687.18 866.13,686.80 867.60,686.41 869.06,686.02 870.52,685.62 871.98,685.21 873.44,684.80 874.90,684.37 876.35,683.95 877.80,683.51 879.25,683.07 880.69,682.62 882.13,682.16 883.57,681.69 885.01,681.22 886.44,680.74 887.87,680.25 889.29,679.75 890.71,679.25 892.13,678.73 893.54,678.21 894.95,677.68 896.36,677.14 897.76,676.59 899.16,676.04 900.56,675.47 901.95,674.90 903.34,674.31 904.72,673.72 906.10,673.12 907.47,672.51 908.84,671.89 910.20,671.25 911.56,670.61 912.92,669.96 914.27,669.30 915.61,668.63 916.95,667.95 918.29,667.26 919.62,666.56 920.94,665.85 922.26,665.13 923.57,664.40 924.88,663.67 926.18,662.92 927.47,662.16 928.76,661.39 930.04,660.61 931.32,659.82 932.59,659.02 933.85,658.21 935.10,657.39 936.35,656.56 937.59,655.72 938.83,654.87 940.05,654.02 941.27,653.15 942.48,652.27 943.68,651.38 944.88,650.48 946.07,649.57 947.25,648.65 948.42,647.72 949.58,646.78 950.73,645.83 951.88,644.87 953.01,643.90 954.14,642.92 955.26,641.93 956.37,640.93 957.47,639.91 958.56,638.89 959.64,637.86 960.71,636.82 961.77,635.77 962.82,634.71 963.87,633.63 964.90,632.55 965.92,631.46 966.93,630.35 967.93,629.24 968.92,628.12 969.90,626.98 970.87,625.84 971.83,624.69 972.78,623.53 973.72,622.36 974.65,621.18 975.57,619.99 976.48,618.80 977.38,617.59 978.27,616.38 979.15,615.16 980.02,613.93 980.88,612.70 981.73,611.46 982.58,610.21 983.41,608.95 984.23,607.69 985.04,606.41 985.85,605.14 986.64,603.85 987.43,602.56 988.20,601.27 988.97,599.97 989.73,598.66 990.47,597.35 991.21,596.03 991.94,594.71 992.66,593.38 993.37,592.04 994.08,590.71 994.77,589.36 995.45,588.02 996.13,586.67 996.80,585.31 997.45,583.96 998.10,582.59 998.74,581.23 999.37,579.86 1000.00,578.49 1000.61,577.11 1001.22,575.74 1001.81,574.36 1002.40,572.97 1002.98,571.59 1003.55,570.20 1004.12,568.81 1004.67,567.42 1005.22,566.03 1005.76,564.63 1006.29,563.23 1006.81,561.83 1007.33,560.42 1007.84,559.02 1008.34,557.61 1008.83,556.20 1009.31,554.78 1009.79,553.37 1010.26,551.95 1010.72,550.53 1011.18,549.11 1011.62,547.68 1012.06,546.26 1012.50,544.83 1012.92,543.40 1013.34,541.97 1013.76,540.53 1014.16,539.10 1014.56,537.66 1014.95,536.22 1015.34,534.78 1015.72,533.33 1016.09,531.89 1016.46,530.44 1016.82,528.99 1017.17,527.54 1017.52,526.08 1017.86,524.63 1018.20,523.17 1018.53,521.72 1018.85,520.26 1019.17,518.79 1019.48,517.33 1019.79,515.87 1020.09,514.40 1020.39,512.93 1020.68,511.46 1020.96,509.99 1021.24,508.52 1021.51,507.05 1021.78,505.57 1022.04,504.09 1022.30,502.62 1022.56,501.14 1022.81,499.66 1023.05,498.17 1023.29,496.69 1023.52,495.21 1023.75,493.72 1023.98,492.23 1024.20,490.75 1024.41,489.26 1024.62,487.77 1024.83,486.27 1025.04,484.78 1025.23,483.29 1025.43,481.79 1025.62,480.30 1025.81,478.80 1025.99,477.30 1026.17,475.80 1026.35,474.30 1026.52,472.80 1026.69,471.30 1026.85,469.80 1027.01,468.30 1027.17,466.79 1027.32,465.29 1027.48,463.78 1027.62,462.28 1027.77,460.77 1027.91,459.26 1028.05,457.75 1028.19,456.25 1028.32,454.74 1028.45,453.23 1028.58,451.71 1028.70,450.20 1028.83,448.69 1028.95,447.18 1029.06,445.67 1029.18,444.15 1029.29,442.64 1029.40,441.13 1029.51,439.61 1029.62,438.10 1029.72,436.58 1029.83,435.07 1029.93,433.55 1030.03,432.04 1030.12,430.52 1030.22,429.00 1030.32,427.49 1030.41,425.97 1030.50,424.45 1030.59,422.94 1030.68,421.42 1030.77,419.90 1030.85,418.38 1030.94,416.87 1031.02,415.35 1031.11,413.83 1031.19,412.32 1031.27,410.80 1031.35,409.28 1031.43,407.77 1031.51,406.25 1031.59,404.73 1031.67,403.22 1031.75,401.70 1031.82,400.18 1031.90,398.67 1031.98,397.15 1032.06,395.64 1032.14,394.12 1032.21,392.61 1032.29,391.10 1032.37,389.58 1032.45,388.07 1032.52,386.56 1032.60,385.05 1032.68,383.53 1032.76,382.02 1032.84,380.51 1032.92,379.00 1033.00,377.49 1033.09,375.98 1033.17,374.48 1033.26,372.97 1033.34,371.46 1033.43,369.96 1033.51,368.45 1033.60,366.95 1033.69,365.44 1033.78,363.94 1033.88,362.44 1033.97,360.94 1034.07,359.44 1034.17,357.94 1034.26,356.44 1034.37,354.94 1034.47,353.45 1034.57,351.95 1034.68,350.46 1034.79,348.96 1034.90,347.47 1035.01,345.98 1035.13,344.49 1035.25,343.00 1035.37,341.51 1035.49,340.03 1035.61,338.54 1035.74,337.06 1035.87,335.57 1036.01,334.09 1036.14,332.61 1036.28,331.13 1036.42,329.66 1036.57,328.18 1036.72,326.70 1036.87,325.23 1037.02,323.76 1037.18,322.29 1037.34,320.82 1037.50,319.35 1037.67,317.89 1037.84,316.42 1038.02,314.96 1038.20,313.50 1038.33,314.99 1038.45,316.49 1038.58,317.98 1038.69,319.48 1038.81,320.97 1038.92,322.47 1039.03,323.97 1039.14,325.46 1039.24,326.96 1039.34,328.46 1039.44,329.96 1039.53,331.46 1039.63,332.96 1039.72,334.46 1039.81,335.96 1039.89,337.46 1039.98,338.96 1040.06,340.46 1040.14,341.96 1040.21,343.47 1040.29,344.97 1040.36,346.47 1040.43,347.97 1040.50,349.48 1040.57,350.98 1040.64,352.49 1040.71,353.99 1040.77,355.50 1040.83,357.00 1040.89,358.51 1040.95,360.01 1041.01,361.52 1041.07,363.03 1041.13,364.53 1041.19,366.04 1041.24,367.54 1041.30,369.05 1041.35,370.56 1041.41,372.07 1041.46,373.57 1041.51,375.08 1041.56,376.59 1041.62,378.10 1041.67,379.60 1041.72,381.11 1041.77,382.62 1041.83,384.13 1041.88,385.64 1041.93,387.14 1041.98,388.65 1042.04,390.16 1042.09,391.67 1042.14,393.17 1042.20,394.68 1042.25,396.19 1042.31,397.70 1042.37,399.21 1042.42,400.71 1042.48,402.22 1042.54,403.73 1042.60,405.24 1042.67,406.74 1042.73,408.25 1042.79,409.76 1042.86,411.26 1042.93,412.77 1043.00,414.28 1043.07,415.78 1043.14,417.29 1043.22,418.79 1043.29,420.30 1043.37,421.80 1043.45,423.31 1043.53,424.81 1043.62,426.32 1043.71,427.82 1043.80,429.33 1043.89,430.83 1043.98,432.33 1044.08,433.84 1044.18,435.34 1044.28,436.84 1044.39,438.34 1044.49,439.84 1044.60,441.34 1044.72,442.84 1044.84,444.34 1044.96,445.84 1045.08,447.34 1045.21,448.84 1045.34,450.34 1045.47,451.84 1045.61,453.34 1045.75,454.83 1045.89,456.33 1046.04,457.82 1046.19,459.32 1046.34,460.82 1046.50,462.31 1046.66,463.80 1046.82,465.30 1046.98,466.79 1047.15,468.28 1047.32,469.78 1047.50,471.27 1047.67,472.76 1047.85,474.25 1048.04,475.74 1048.22,477.24 1048.41,478.73 1048.60,480.22 1048.80,481.71 1049.00,483.19 1049.20,484.68 1049.40,486.17 1049.60,487.66 1049.81,489.15 1050.02,490.64 1050.24,492.12 1050.45,493.61 1050.67,495.10 1050.89,496.58 1051.11,498.07 1051.34,499.56 1051.57,501.04 1051.80,502.53 1052.03,504.01 1052.27,505.50 1052.51,506.98 1052.75,508.47 1052.99,509.95 1053.23,511.44 1053.48,512.92 1053.73,514.40 1053.98,515.89 1054.23,517.37 1054.49,518.85 1054.75,520.33 1055.01,521.82 1055.27,523.30 1055.53,524.78 1055.80,526.26 1056.07,527.74 1056.34,529.23 1056.61,530.71 1056.88,532.19 1057.16,533.67 1057.43,535.15 1057.71,536.63 1057.99,538.11 1058.28,539.59 1058.56,541.07 1058.85,542.55 1059.13,544.03 1059.42,545.51 1059.71,546.99 1060.01,548.47 1060.30,549.95 1060.60,551.43 1060.89,552.91 1061.19,554.39 1061.49,555.87 1061.79,557.35 1062.10,558.83 1062.40,560.31 1062.71,561.78 1063.01,563.26 1063.32,564.74 1063.63,566.22 1063.94,567.70 1064.25,569.18 1064.57,570.66 1064.88,572.14 1065.20,573.62 1065.51,575.09 1065.83,576.57 1066.15,578.05 1066.48,579.53 1066.80,581.00 1067.13,582.48 1067.46,583.95 1067.80,585.43 1068.13,586.90 1068.47,588.38 1068.82,589.85 1069.16,591.32 1069.51,592.79 1069.87,594.26 1070.23,595.72 1070.59,597.19 1070.95,598.65 1071.32,600.12 1071.70,601.58 1072.08,603.04 1072.46,604.50 1072.85,605.95 1073.25,607.41 1073.65,608.86 1074.05,610.31 1074.46,611.76 1074.88,613.21 1075.30,614.65 1075.73,616.09 1076.17,617.53 1076.61,618.97 1077.05,620.40 1077.51,621.84 1077.97,623.26 1078.44,624.69 1078.91,626.12 1079.40,627.54 1079.89,628.95 1080.38,630.37 1080.89,631.78 1081.40,633.19 1081.93,634.60 1082.46,636.00 1082.99,637.40 1083.54,638.79 1084.10,640.18 1084.66,641.57 1085.23,642.96 1085.81,644.34 1086.40,645.72 1087.00,647.10 1087.60,648.47 1088.21,649.84 1088.83,651.21 1089.45,652.57 1090.08,653.93 1090.72,655.29 1091.36,656.65 1092.01,658.00 1092.67,659.35 1093.33,660.70 1093.99,662.05 1094.66,663.39 1095.34,664.74 1096.02,666.08 1096.71,667.41 1097.40,668.75 1098.10,670.08 1098.80,671.42 1099.50,672.75 1100.21,674.08 1100.92,675.40 1101.63,676.73 1102.35,678.05 1103.07,679.38 1103.80,680.70 1104.52,682.02 1105.25,683.34 1105.98,684.65 1106.72,685.97 1107.45,687.29 1108.19,688.60 1108.93,689.92 1109.67,691.23 1110.41,692.54 1111.15,693.85 1111.90,695.16 1112.64,696.47 1113.39,697.78 1114.14,699.09 1114.89,700.40 1115.64,701.71 1116.39,703.01 1117.14,704.32 1117.90,705.62 1118.65,706.93 1119.41,708.23 1120.17,709.53 1120.93,710.83 1121.69,712.13 1122.45,713.43 1123.22,714.73 1123.98,716.03 1124.75,717.33 1125.52,718.62 1126.29,719.92 1127.06,721.21 1127.83,722.51 1128.60,723.80 1129.38,725.09 1130.15,726.38 1130.93,727.67 1131.71,728.96 1132.49,730.25 1133.27,731.54 1134.05,732.83 1134.83,734.12 1135.62,735.40 1136.41,736.69 1137.19,737.97 1137.98,739.26 1138.77,740.54 1139.56,741.82 1140.35,743.10 1141.15,744.38 1141.94,745.66 1142.74,746.94 1143.53,748.22 1144.33,749.49 1145.13,750.77 1145.93,752.05 1146.73,753.32 1147.54,754.59 1148.34,755.87 1149.15,757.14 1149.95,758.41 1150.76,759.68 1151.57,760.95 1152.38,762.22 1153.19,763.49 1154.01,764.76 1154.82,766.02 1155.64,767.29 1156.45,768.55 1157.27,769.82 1158.09,771.08 1158.91,772.34 1159.73,773.60 1160.55,774.86 1161.37,776.12 1162.20,777.38 1163.02,778.64 1163.85,779.90 1164.68,781.15 1165.51,782.41 1166.34,783.66 1167.17,784.92 1168.00,786.17 1168.84,787.42 1169.67,788.68 1170.51,789.93 1171.34,791.18 1172.18,792.43 1173.02,793.67 1173.86,794.92 1174.70,796.17 1175.55,797.41 1176.39,798.66 1177.24,799.90 1178.08,801.15 1178.93,802.39 1179.78,803.63 1180.63,804.87 1181.48,806.11 1182.33,807.35 1183.18,808.59 1184.04,809.82 1184.90,811.06 1185.75,812.29 1186.62,813.52 1187.48,814.76 1188.34,815.98 1189.21,817.21 1190.08,818.44 1190.95,819.67 1191.82,820.89 1192.69,822.11 1193.57,823.33 1194.45,824.55 1195.33,825.77 1196.22,826.98 1197.11,828.19 1198.00,829.40 1198.89,830.61 1199.79,831.82 1200.69,833.02 1201.59,834.23 1202.49,835.43 1203.40,836.62 1204.32,837.82 1205.23,839.01 1206.15,840.20 1207.07,841.39 1208.00,842.58 1208.93,843.76 1209.86,844.94 1210.80,846.12 1211.74,847.29 1212.69,848.46 1213.64,849.63 1214.59,850.80 1215.55,851.96 1216.51,853.12 1217.48,854.27 1218.45,855.43 1219.43,856.58 1220.41,857.73 1221.39,858.87 1222.38,860.01 1223.37,861.15 1224.36,862.29 1225.36,863.42 1226.35,864.56 1227.35,865.69 1228.36,866.82 1229.36,867.95 1230.37,869.07 1231.37,870.20 1232.38,871.33 1233.38,872.45 1234.39,873.58 1235.40,874.70 1236.40,875.82 1237.41,876.95 1238.41,878.07 1239.42,879.20 1240.42,880.32 1241.42,881.44 1242.42,882.56 1243.43,883.68 1244.43,884.80 1245.43,885.91 1246.44,887.02 1247.45,888.13 1248.46,889.23 1249.47,890.33 1250.48,891.43 1251.49,892.52 1252.51,893.61 1253.53,894.69 1254.55,895.77 1255.58,896.85 1256.61,897.92 1257.64,898.99 1258.67,900.06 1259.71,901.12 1260.75,902.18 1261.79,903.24 1262.84,904.29 1263.89,905.34 1264.94,906.39 1266.00,907.44 1267.06,908.48 1268.13,909.52 1269.19,910.56 1270.27,911.59 1271.35,912.63 1272.43,913.66 1273.51,914.69 1274.61,915.71 1275.70,916.74 1276.80,917.76 1277.91,918.78 1279.02,919.80 1280.13,920.82 1281.26,921.83 1282.38,922.85 1283.51,923.86 1284.65,924.86 1285.80,925.87 1286.95,926.86 1288.10,927.86 1289.27,928.84 1290.44,929.82 1291.61,930.80 1292.79,931.77 1293.98,932.73 1295.18,933.68 1296.39,934.62 1297.60,935.56 1298.82,936.48 1300.05,937.40 1301.28,938.30 1302.53,939.20 1303.78,940.08 1305.04,940.95 1306.31,941.81 1307.59,942.66 1308.87,943.49 1310.17,944.31 1311.48,945.11 1312.79,945.90 1314.12,946.67 1315.45,947.43 1316.80,948.17 1318.15,948.89 1319.51,949.59 1320.88,950.26 1322.25,950.91 1323.64,951.52 1325.02,952.09 1326.41,952.62 1327.80,953.11 1329.19,953.55 1330.58,953.94 1331.97,954.27 1333.35,954.54 1334.74,954.75 1336.12,954.90 1337.49,954.97 1338.86,954.98 1340.22,954.90 1341.57,954.75 1342.91,954.51 1344.25,954.18 1345.57,953.76 1346.88,953.25 1348.17,952.64 1349.45,951.93 1350.72,951.11 1351.97,950.18 1353.20,949.14 1354.41,947.98 1355.60,946.70 1356.09,947.40 1356.60,948.07 1357.11,948.73 1357.63,949.39 1358.12,950.08 1358.59,950.80 1359.02,951.57 1359.40,952.40 1359.79,953.56 1360.10,954.82 1360.35,956.16 1360.55,957.55 1360.73,958.97 1360.90,960.41 1361.08,961.82 1361.30,963.20 1362.01,961.83 1362.71,960.45 1363.40,959.07 1364.07,957.68 1364.73,956.30 1365.37,954.90 1366.01,953.51 1366.62,952.11 1367.23,950.71 1367.82,949.30 1368.40,947.89 1368.96,946.48 1369.52,945.06 1370.06,943.64 1370.59,942.22 1371.10,940.79 1371.61,939.36 1372.10,937.93 1372.58,936.50 1373.05,935.06 1373.51,933.62 1373.96,932.18 1374.40,930.73 1374.82,929.28 1375.24,927.83 1375.64,926.37 1376.04,924.92 1376.43,923.46 1376.80,922.00 1377.17,920.53 1377.52,919.06 1377.87,917.59 1378.21,916.12 1378.54,914.65 1378.86,913.17 1379.17,911.69 1379.47,910.21 1379.77,908.73 1380.05,907.24 1380.33,905.76 1380.60,904.27 1380.86,902.78 1381.12,901.29 1381.37,899.79 1381.61,898.29 1381.84,896.80 1382.07,895.30 1382.29,893.80 1382.50,892.29 1382.71,890.79 1382.91,889.28 1383.10,887.78 1383.29,886.27 1383.47,884.76 1383.65,883.25 1383.82,881.73 1383.99,880.22 1384.15,878.70 1384.31,877.19 1384.46,875.67 1384.61,874.15 1384.75,872.63 1384.89,871.11 1385.03,869.59 1385.16,868.07 1385.28,866.55 1385.41,865.03 1385.53,863.50 1385.65,861.98 1385.76,860.45 1385.87,858.93 1385.98,857.40 1386.09,855.88 1386.19,854.35 1386.29,852.82 1386.39,851.29 1386.49,849.77 1386.58,848.24 1386.68,846.71 1386.77,845.18 1386.86,843.65 1386.95,842.13 1387.04,840.60 1387.13,839.07 1387.22,837.54 1387.31,836.01 1387.40,834.49 1387.48,832.96 1387.57,831.43 1387.66,829.90 1387.75,828.38 1387.84,826.85 1387.93,825.33 1388.02,823.80 1388.11,822.28 1388.20,820.75 1388.30,819.23 1388.39,817.71 1388.49,816.19 1388.59,814.67 1388.69,813.15 1388.79,811.63 1388.90,810.11 1389.01,808.60 1389.12,807.08 1389.24,805.57 1389.35,804.05 1389.48,802.54 1389.60,801.03 1389.73,799.52 1389.86,798.01 1389.99,796.51 1390.13,795.00 1390.28,793.50 1390.43,792.00 1390.58,790.50 1390.74,789.00 1390.90,787.50 1391.02,789.01 1391.14,790.51 1391.26,792.02 1391.38,793.52 1391.49,795.03 1391.60,796.54 1391.71,798.04 1391.82,799.55 1391.93,801.06 1392.04,802.57 1392.14,804.07 1392.24,805.58 1392.35,807.09 1392.45,808.60 1392.54,810.11 1392.64,811.61 1392.74,813.12 1392.83,814.63 1392.92,816.14 1393.01,817.65 1393.10,819.16 1393.19,820.67 1393.28,822.18 1393.37,823.69 1393.45,825.20 1393.53,826.71 1393.62,828.22 1393.70,829.73 1393.78,831.24 1393.86,832.75 1393.93,834.26 1394.01,835.77 1394.09,837.28 1394.16,838.79 1394.24,840.30 1394.31,841.81 1394.38,843.32 1394.45,844.83 1394.52,846.34 1394.59,847.85 1394.66,849.37 1394.73,850.88 1394.79,852.39 1394.86,853.90 1394.93,855.41 1394.99,856.92 1395.05,858.44 1395.12,859.95 1395.18,861.46 1395.24,862.97 1395.30,864.48 1395.37,866.00 1395.43,867.51 1395.49,869.02 1395.55,870.53 1395.61,872.05 1395.66,873.56 1395.72,875.07 1395.78,876.58 1395.84,878.10 1395.90,879.61 1395.95,881.12 1396.01,882.64 1396.07,884.15 1396.12,885.66 1396.18,887.17 1396.24,888.69 1396.29,890.20 1396.35,891.71 1396.40,893.23 1396.46,894.74 1396.51,896.25 1396.57,897.77 1396.63,899.28 1396.68,900.79 1396.74,902.31 1396.79,903.82 1396.85,905.33 1396.91,906.85 1396.96,908.36 1397.02,909.87 1397.08,911.38 1397.13,912.90 1397.19,914.41 1397.25,915.92 1397.31,917.44 1397.37,918.95 1397.42,920.46 1397.48,921.98 1397.54,923.49 1397.60,925.00 1397.66,926.52 1397.73,928.03 1397.79,929.54 1397.85,931.05 1397.91,932.57 1397.98,934.08 1398.04,935.59 1398.11,937.11 1398.17,938.62 1398.24,940.13 1398.30,941.64 1398.37,943.16 1398.44,944.67 1398.51,946.18 1398.58,947.69 1398.65,949.20 1398.72,950.72 1398.80,952.23 1398.87,953.74 1398.95,955.25 1399.02,956.76 1399.10,958.28 1399.18,959.79 1399.26,961.30 1399.34,962.81 1399.42,964.32 1399.50,965.83 1399.58,967.34 1399.67,968.86 1399.76,970.37 1399.84,971.88 1399.93,973.39 1400.02,974.90 1400.11,976.41 1400.21,977.92 1400.30,979.43 1400.40,980.94 1400.49,982.45 1400.59,983.96 1400.69,985.47 1400.79,986.98 1400.90,988.49 1401.00,990.00" stroke="#0000ff" stroke-width="5.3" stroke-dasharray="5.6 5.64" stroke-dashoffset="1.1"/>
</g>
<g font-family="Liberation Sans, sans-serif" fill="#1c1c1c" class="tx">
<g transform="translate(123.50,69.80) scale(0.8900,1.0000)"><path d="M545 0L701 0L701 1409L560 1409L156 1120L156 965L545 1235Z" transform="translate(0.00,0) scale(0.02378,-0.02378)"/><text x="27.08" y="0" font-size="48.70">0</text></g>
<g transform="translate(173.50,47.00) scale(1.0500,1.0000)"><text x="0.00" y="0" font-size="36.50">-5</text></g>
<g transform="translate(123.50,185.50) scale(0.8900,1.0000)"><path d="M545 0L701 0L701 1409L560 1409L156 1120L156 965L545 1235Z" transform="translate(0.00,0) scale(0.02378,-0.02378)"/><text x="27.08" y="0" font-size="48.70">0</text></g>
<g transform="translate(173.50,162.70) scale(1.0500,1.0000)"><text x="0.00" y="0" font-size="36.50">-6</text></g>
<g transform="translate(123.50,300.70) scale(0.8900,1.0000)"><path d="M545 0L701 0L701 1409L560 1409L156 1120L156 965L545 1235Z" transform="translate(0.00,0) scale(0.02378,-0.02378)"/><text x="27.08" y="0" font-size="48.70">0</text></g>
<g transform="translate(173.50,277.90) scale(1.0500,1.0000)"><text x="0.00" y="0" font-size="36.50">-7</text></g>
<g transform="translate(123.50,418.70) scale(0.8900,1.0000)"><path d="M545 0L701 0L701 1409L560 1409L156 1120L156 965L545 1235Z" transform="translate(0.00,0) scale(0.02378,-0.02378)"/><text x="27.08" y="0" font-size="48.70">0</text></g>
<g transform="translate(173.50,395.90) scale(1.0500,1.0000)"><text x="0.00" y="0" font-size="36.50">-8</text></g>
<g transform="translate(123.50,533.90) scale(0.8900,1.0000)"><path d="M545 0L701 0L701 1409L560 1409L156 1120L156 965L545 1235Z" transform="translate(0.00,0) scale(0.02378,-0.02378)"/><text x="27.08" y="0" font-size="48.70">0</text></g>
<g transform="translate(173.50,511.10) scale(1.0500,1.0000)"><text x="0.00" y="0" font-size="36.50">-9</text></g>
<g transform="translate(104.00,649.80) scale(0.8900,1.0000)"><path d="M545 0L701 0L701 1409L560 1409L156 1120L156 965L545 1235Z" transform="translate(0.00,0) scale(0.02378,-0.02378)"/><text x="27.08" y="0" font-size="48.70">0</text></g>
<g transform="translate(154.00,627.00) scale(1.0500,1.0000)"><text x="0.00" y="0" font-size="36.50">-</text><path d="M545 0L701 0L701 1409L560 1409L156 1120L156 965L545 1235Z" transform="translate(12.15,0) scale(0.01782,-0.01782)"/><text x="32.45" y="0" font-size="36.50">0</text></g>
<g transform="translate(104.00,764.40) scale(0.8900,1.0000)"><path d="M545 0L701 0L701 1409L560 1409L156 1120L156 965L545 1235Z" transform="translate(0.00,0) scale(0.02378,-0.02378)"/><text x="27.08" y="0" font-size="48.70">0</text></g>
<g transform="translate(154.00,741.60) scale(1.0500,1.0000)"><text x="0.00" y="0" font-size="36.50">-</text><path d="M545 0L701 0L701 1409L560 1409L156 1120L156 965L545 1235Z" transform="translate(12.15,0) scale(0.01782,-0.01782)"/><path d="M545 0L701 0L701 1409L560 1409L156 1120L156 965L545 1235Z" transform="translate(32.45,0) scale(0.01782,-0.01782)"/></g>
<g transform="translate(104.00,882.90) scale(0.8900,1.0000)"><path d="M545 0L701 0L701 1409L560 1409L156 1120L156 965L545 1235Z" transform="translate(0.00,0) scale(0.02378,-0.02378)"/><text x="27.08" y="0" font-size="48.70">0</text></g>
<g transform="translate(154.00,860.10) scale(1.0500,1.0000)"><text x="0.00" y="0" font-size="36.50">-</text><path d="M545 0L701 0L701 1409L560 1409L156 1120L156 965L545 1235Z" transform="translate(12.15,0) scale(0.01782,-0.01782)"/><text x="32.45" y="0" font-size="36.50">2</text></g>
<g transform="translate(104.00,997.80) scale(0.8900,1.0000)"><path d="M545 0L701 0L701 1409L560 1409L156 1120L156 965L545 1235Z" transform="translate(0.00,0) scale(0.02378,-0.02378)"/><text x="27.08" y="0" font-size="48.70">0</text></g>
<g transform="translate(154.00,975.00) scale(1.0500,1.0000)"><text x="0.00" y="0" font-size="36.50">-</text><path d="M545 0L701 0L701 1409L560 1409L156 1120L156 965L545 1235Z" transform="translate(12.15,0) scale(0.01782,-0.01782)"/><text x="32.45" y="0" font-size="36.50">3</text></g>
<g transform="translate(188.70,1051.80) scale(0.8900,1.0000)"><path d="M545 0L701 0L701 1409L560 1409L156 1120L156 965L545 1235Z" transform="translate(0.00,0) scale(0.02378,-0.02378)"/><text x="27.08" y="0" font-size="48.70">0</text></g>
<g transform="translate(239.38,1029.00) scale(1.0500,1.0000)"><path d="M545 0L701 0L701 1409L560 1409L156 1120L156 965L545 1235Z" transform="translate(0.00,0) scale(0.01782,-0.01782)"/></g>
<g transform="translate(712.00,1051.80) scale(0.8900,1.0000)"><path d="M545 0L701 0L701 1409L560 1409L156 1120L156 965L545 1235Z" transform="translate(0.00,0) scale(0.02378,-0.02378)"/><text x="27.08" y="0" font-size="48.70">0</text></g>
<g transform="translate(761.57,1029.20) scale(1.0500,1.0000)"><text x="0.00" y="0" font-size="36.50">2</text></g>
<g transform="translate(1237.70,1051.80) scale(0.8900,1.0000)"><path d="M545 0L701 0L701 1409L560 1409L156 1120L156 965L545 1235Z" transform="translate(0.00,0) scale(0.02378,-0.02378)"/><text x="27.08" y="0" font-size="48.70">0</text></g>
<g transform="translate(1290.34,1028.80) scale(1.0500,1.0000)"><text x="0.00" y="0" font-size="36.50">3</text></g>
<text transform="translate(662.82,1125.2) scale(1,1.050)" font-size="53.4">Frequency/Hz</text>
<text transform="translate(76,787.18) rotate(-90) scale(1,1.050)" font-size="53.4">Response/[(MPa</text>
<text transform="translate(76,386.67) rotate(-90) scale(1,1.050)" font-size="53.4">)</text>
<text transform="translate(50.6,371.86) rotate(-90)" font-size="41">2</text>
<text transform="translate(76,346.60) rotate(-90) scale(1,1.050)" font-size="53.4">/Hz)]</text>
</g>
<rect x="263.5" y="80.2" width="365.8" height="196.8" fill="#fff" stroke="#1c1c1c" stroke-width="2.4"/>
<line x1="273.4" y1="116.8" x2="359.9" y2="116.8" stroke="#000" stroke-width="5"/>
<line x1="273.4" y1="181.5" x2="359.9" y2="181.5" stroke="#f00" stroke-width="5" stroke-dasharray="22.4 22.4"/>
<line x1="273.4" y1="243.1" x2="359.9" y2="243.1" stroke="#00f" stroke-width="5" stroke-dasharray="5 6.24"/>
<g font-family="Liberation Sans, sans-serif" fill="#000">
<g transform="translate(366.00,134.80)"><text x="0.00" y="0" font-size="47.60">node</text><path d="M545 0L701 0L701 1409L560 1409L156 1120L156 965L545 1235Z" transform="translate(105.89,0) scale(0.02324,-0.02324)"/><text x="132.36" y="0" font-size="47.60">5,629</text></g>
<g transform="translate(366.00,196.80)"><text x="0.00" y="0" font-size="47.60">node507</text></g>
<g transform="translate(366.00,261.30)"><text x="0.00" y="0" font-size="47.60">node439</text></g>
</g>
</svg></body></html>
